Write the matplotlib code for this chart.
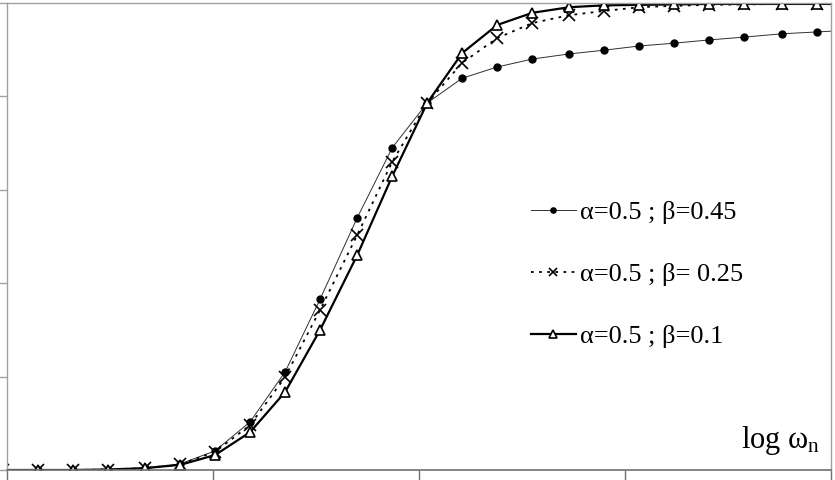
import matplotlib
matplotlib.use("Agg")
import matplotlib.pyplot as plt

plt.rcParams['font.family'] = ['Liberation Serif', 'DejaVu Serif']
plt.rcParams['mathtext.fontset'] = 'custom'
plt.rcParams['mathtext.rm'] = 'Liberation Serif'
plt.rcParams['mathtext.it'] = 'Liberation Serif:italic'

# x positions (log omega scale, arbitrary units 0..4)
x_vals = [-0.02, 0.15, 0.32, 0.49, 0.67, 0.84, 1.01, 1.18, 1.35, 1.52, 1.70, 1.87,
          2.04, 2.21, 2.38, 2.55, 2.73, 2.90, 3.07, 3.24, 3.41, 3.58, 3.76, 3.93, 4.10]

beta_045 = [0.0, 0.0, 0.0, 0.001, 0.004, 0.013, 0.041, 0.103, 0.210, 0.366, 0.540, 0.690,
            0.786, 0.839, 0.863, 0.880, 0.891, 0.899, 0.908, 0.914, 0.921, 0.927, 0.934, 0.938, 0.942]
beta_025 = [0.0, 0.0, 0.0, 0.001, 0.004, 0.012, 0.039, 0.096, 0.199, 0.343, 0.503, 0.660,
            0.786, 0.872, 0.925, 0.957, 0.974, 0.983, 0.991, 0.994, 0.996, 0.997, 0.998, 0.998, 0.998]
beta_010 = [0.0, 0.0, 0.0, 0.001, 0.004, 0.011, 0.032, 0.081, 0.167, 0.300, 0.460, 0.629,
            0.786, 0.893, 0.953, 0.979, 0.991, 0.995, 0.996, 0.997, 0.998, 0.998, 0.998, 0.998, 0.998]

labels = ["α=0.5 ; β=0.45", "α=0.5 ; β= 0.25", "α=0.5 ; β=0.1"]
x_ticks = [0, 1, 2, 3, 4]
y_ticks = [0, 0.2, 0.4, 0.6, 0.8, 1.0]

fig = plt.figure(figsize=(8.35, 4.8), dpi=100)
ax = fig.add_axes([7/835, 10/480, 824/835, 467/480])

ax.plot(x_vals, beta_045, color='#303030', lw=0.7, marker='o', ms=5,
        mfc='black', mec='black', label=labels[0])
ax.plot(x_vals, beta_025, color='black', lw=1.3, ls=(0, (1.5, 3)), marker='x', ms=8,
        mew=1.2, mec='black', label=labels[1])
ax.plot(x_vals, beta_010, color='black', lw=1.6, marker='^', ms=7,
        mfc='white', mec='black', mew=1.2, label=labels[2])

ax.set_xlim(0, 4)
ax.set_ylim(0, 1.0)
ax.set_xticks(x_ticks)
ax.set_yticks(y_ticks)
ax.set_xticklabels([])
ax.set_yticklabels([])
ax.tick_params(axis='x', direction='out', length=10, color='#707070', width=1)
ax.tick_params(axis='y', direction='out', length=7, color='#a0a0a0', width=1)
for side in ['left', 'right', 'top']:
    ax.spines[side].set_color('#a0a0a0')
    ax.spines[side].set_linewidth(1)
ax.spines['bottom'].set_color('#707070')
ax.spines['bottom'].set_linewidth(1.2)

ax.text(0.987, 0.047, r'$\mathrm{log\ \omega_n}$', transform=ax.transAxes,
        ha='right', va='baseline', fontsize=22)

leg = ax.legend(loc='upper left', bbox_to_anchor=(0.607, 0.627), frameon=False,
                fontsize=19, handlelength=1.7, handletextpad=0.15, labelspacing=1.45,
                markerscale=0.75)

fig.savefig('out.png', dpi=100)
